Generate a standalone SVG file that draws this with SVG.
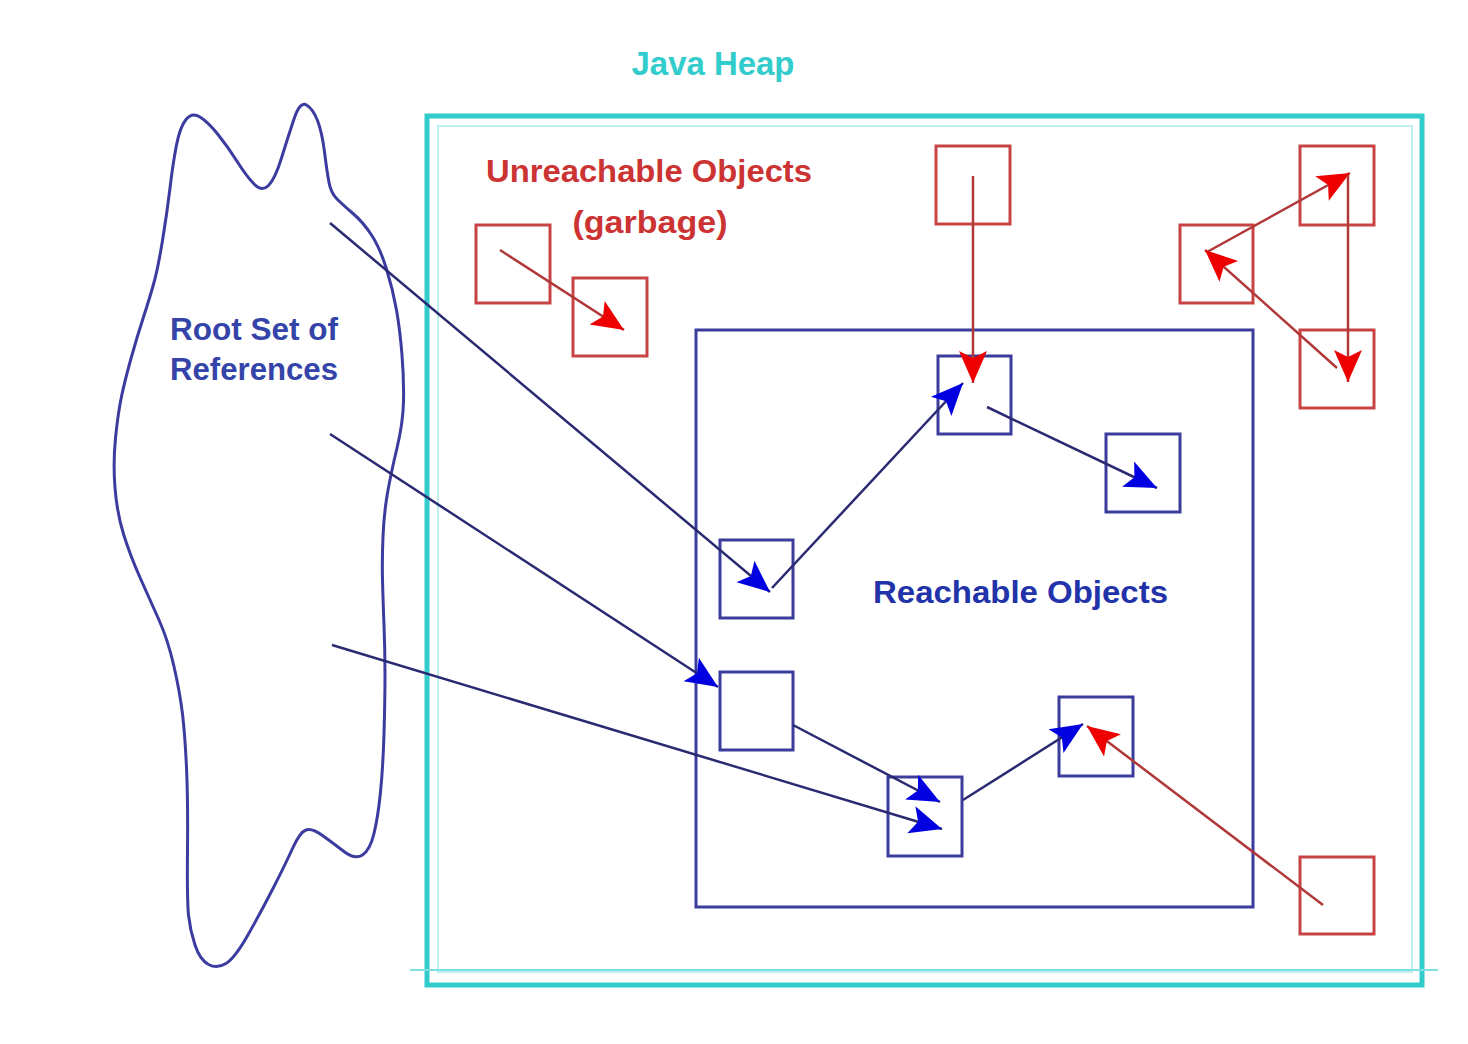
<svg xmlns="http://www.w3.org/2000/svg" width="1468" height="1044" viewBox="0 0 1468 1044">
<defs>
<style>
.rbox{fill:none;stroke:#c84444;stroke-width:3}
.bbox{fill:none;stroke:#3c3c9c;stroke-width:3}
.bl{fill:none;stroke:#2a2a72;stroke-width:2.5}
.rl{fill:none;stroke:#b03838;stroke-width:2.5}
.t{font-family:"Liberation Sans",Arial,sans-serif;font-weight:bold}
</style>
<marker id="ab" viewBox="-36 -16 38 32" refX="0" refY="0" markerWidth="38" markerHeight="32" markerUnits="userSpaceOnUse" orient="auto">
<path d="M0,0 L-32,-14 L-25,0 L-32,14 Z" fill="#0000e0"/>
</marker>
<marker id="ar" viewBox="-36 -16 38 32" refX="0" refY="0" markerWidth="38" markerHeight="32" markerUnits="userSpaceOnUse" orient="auto">
<path d="M0,0 L-32,-14 L-25,0 L-32,14 Z" fill="#ee0000"/>
</marker>
</defs>
<rect width="1468" height="1044" fill="#ffffff"/>

<g id="java-heap">
<rect x="427" y="116" width="995" height="869" fill="none" stroke="#33cccc" stroke-width="5"/>
<rect x="438" y="126" width="974" height="846" fill="none" stroke="#bff0f0" stroke-width="2"/>
<line x1="410" y1="970" x2="1438" y2="970" stroke="#7ee0e0" stroke-width="2"/>
<text class="t" x="713" y="75" font-size="33" fill="#33cccc" text-anchor="middle" textLength="163" lengthAdjust="spacingAndGlyphs">Java Heap</text>
</g>

<g id="root-set">
<path d="M186,119.5 Q192,112 200,117 Q208,122 218,134.5 Q228,147 237.5,162 Q247,177 254.5,184.5 Q262,192 268.5,185.5 Q275,179 281.5,158 Q288,137 294,119 Q300,101 306.5,105 Q313,109 317.5,120.5 Q322,132 324.5,152 Q327,172 329,182.5 Q331,193 337,199 Q343,205 353,213.5 Q363,222 371.5,235 Q380,248 386.5,269 Q393,290 396.5,310 Q400,330 402,355 Q404,380 403.5,401.5 Q403,423 397,448 Q391,473 387.5,493 Q384,513 383,536.5 Q382,560 382.5,580 Q383,600 384,625 Q385,650 385,675 Q385,700 384,733.5 Q383,767 380.5,792 Q378,817 374,833.5 Q370,850 362.5,855 Q355,860 344,851.5 Q333,843 322.5,835.5 Q312,828 306,830 Q300,832 292.5,848.5 Q285,865 273.5,887.5 Q262,910 248.5,934 Q235,958 226,963.5 Q217,969 208.5,964.5 Q200,960 195,945 Q190,930 188.5,915 Q187,900 187.5,850 Q188,800 186.5,767.5 Q185,735 182.5,714 Q180,693 174,666.5 Q168,640 159,620 Q150,600 140,577.5 Q130,555 123.5,534 Q117,513 115,488 Q113,463 115.5,438 Q118,413 121.5,396.5 Q125,380 131,358.5 Q137,337 143.5,317 Q150,297 154,282.5 Q158,268 162.5,240.5 Q167,213 170,188 Q173,163 176.5,145 Q180,127 186,119.5 Z" fill="none" stroke="#3c3ca0" stroke-width="3"/>
<text class="t" x="170" y="340" font-size="31" fill="#3444a8" textLength="168" lengthAdjust="spacingAndGlyphs">Root Set of</text>
<text class="t" x="170" y="380" font-size="31" fill="#3444a8" textLength="168" lengthAdjust="spacingAndGlyphs">References</text>
</g>

<g id="unreachable-label">
<text class="t" x="649" y="182" font-size="32" fill="#cc3333" text-anchor="middle" textLength="326" lengthAdjust="spacingAndGlyphs">Unreachable Objects</text>
<text class="t" x="650" y="233" font-size="32" fill="#cc3333" text-anchor="middle" textLength="155" lengthAdjust="spacingAndGlyphs">(garbage)</text>
</g>

<g id="reachable-area">
<rect x="696" y="330" width="557" height="577" fill="none" stroke="#3c3c9c" stroke-width="3"/>
<text class="t" x="873" y="603" font-size="32" fill="#2233aa" textLength="295" lengthAdjust="spacingAndGlyphs">Reachable Objects</text>
</g>

<g id="g1"><rect class="rbox" x="476" y="225" width="74" height="78"/></g>
<g id="g2"><rect class="rbox" x="573" y="278" width="74" height="78"/></g>
<g id="g3"><rect class="rbox" x="936" y="146" width="74" height="78"/></g>
<g id="g4"><rect class="rbox" x="1300" y="146" width="74" height="79"/></g>
<g id="g5"><rect class="rbox" x="1180" y="225" width="73" height="78"/></g>
<g id="g6"><rect class="rbox" x="1300" y="330" width="74" height="78"/></g>
<g id="g7"><rect class="rbox" x="1300" y="857" width="74" height="77"/></g>

<g id="rA"><rect class="bbox" x="938" y="356" width="73" height="78"/></g>
<g id="rB"><rect class="bbox" x="1106" y="434" width="74" height="78"/></g>
<g id="rC"><rect class="bbox" x="720" y="540" width="73" height="78"/></g>
<g id="rD"><rect class="bbox" x="720" y="672" width="73" height="78"/></g>
<g id="rE"><rect class="bbox" x="888" y="777" width="74" height="79"/></g>
<g id="rF"><rect class="bbox" x="1059" y="697" width="74" height="79"/></g>

<g id="connectors">
<line class="bl" x1="330" y1="223" x2="770" y2="592" marker-end="url(#ab)"/>
<line class="bl" x1="772" y1="588" x2="963" y2="383" marker-end="url(#ab)"/>
<line class="bl" x1="987" y1="407" x2="1157" y2="488" marker-end="url(#ab)"/>
<line class="bl" x1="330" y1="434" x2="718" y2="687" marker-end="url(#ab)"/>
<line class="bl" x1="793" y1="725" x2="940" y2="802" marker-end="url(#ab)"/>
<line class="bl" x1="332" y1="645" x2="942" y2="829" marker-end="url(#ab)"/>
<line class="bl" x1="963" y1="800" x2="1083" y2="724" marker-end="url(#ab)"/>
<line class="rl" x1="1323" y1="905" x2="1087" y2="726" marker-end="url(#ar)"/>
<line class="rl" x1="973" y1="176" x2="973" y2="383" marker-end="url(#ar)"/>
<line class="rl" x1="500" y1="250" x2="624" y2="330" marker-end="url(#ar)"/>
<line class="rl" x1="1207" y1="252" x2="1350" y2="173" marker-end="url(#ar)"/>
<line class="rl" x1="1348" y1="175" x2="1348" y2="382" marker-end="url(#ar)"/>
<line class="rl" x1="1337" y1="368" x2="1205" y2="250" marker-end="url(#ar)"/>
</g>
</svg>
